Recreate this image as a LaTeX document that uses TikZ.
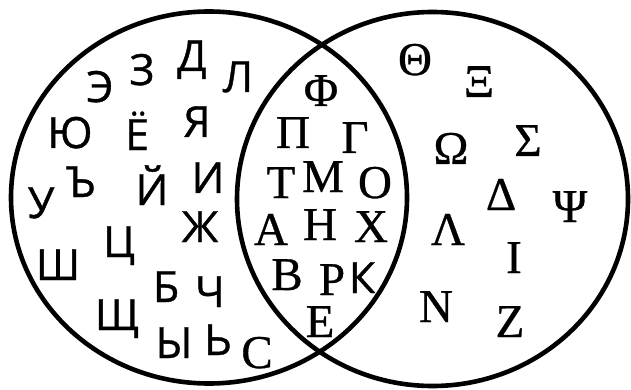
\documentclass[tikz,border=0pt]{standalone}
\usepackage{fontspec}
\newfontfamily\cyrfont[FakeBold=0.9]{Open Sans}
\newfontfamily\grkfont[FakeBold=0.7]{Liberation Serif}
\begin{document}
\begin{tikzpicture}[x=1pt,y=-1pt,
  ring/.style={line width=4.6pt},
  cy/.style={anchor=base,inner sep=0pt,font=\cyrfont\fontsize{43}{43}\selectfont},
  gr/.style={anchor=base,inner sep=0pt,font=\grkfont\fontsize{47}{47}\selectfont}]
\useasboundingbox (0,0) rectangle (631,390);
\draw[ring] (209,197.5) ellipse [x radius=198pt, y radius=186pt];
\draw[ring] (432.5,199) ellipse [x radius=195.5pt, y radius=187pt];
% Cyrillic only
\node[cy] (l1) at (100,102) {Э};
\node[cy] (l2) at (142,85) {З};
\node[cy] (l3) at (192,71) {Д};
\node[cy] (l4) at (238,92) {Л};
\node[cy] (l5) at (70,148) {Ю};
\node[cy] (l6) at (137,150) {Ё};
\node[cy] (l7) at (197,137) {Я};
\node[cy] (l8) at (81,197) {Ъ};
\node[cy] (l9) at (41,218) {У};
\node[cy] (l10) at (152,205) {Й};
\node[cy] (l11) at (208,193) {И};
\node[cy] (l12) at (200,242) {Ж};
\node[cy] (l13) at (119,257) {Ц};
\node[cy] (l14) at (58,280) {Ш};
\node[cy] (l15) at (166,302) {Б};
\node[cy] (l16) at (210,307) {Ч};
\node[cy] (l17) at (117,330) {Щ};
\node[cy] (l18) at (174,358) {Ы};
\node[cy] (l19) at (218,355) {Ь};
\node[gr] (l20) at (257,368) {С};
% shared
\node[gr] (m1) at (321,106) {Φ};
\node[gr] (m2) at (293,148) {П};
\node[gr] (m3) at (355,153) {Γ};
\node[gr] (m4) at (281,198) {Т};
\node[gr] (m5) at (323,192) {М};
\node[gr] (m6) at (375,198) {О};
\node[gr] (m7) at (271,245) {А};
\node[gr] (m8) at (320,240) {Н};
\node[gr] (m9) at (371,242) {Х};
\node[gr] (m10) at (287,290) {В};
\node[gr] (m11) at (332,295) {Р};
\node[cy] (m12) at (362,293) {К};
\node[gr] (m13) at (320,337) {Е};
% Greek only
\node[gr] (r1) at (415,75) {Θ};
\node[gr] (r2) at (479,97) {Ξ};
\node[gr] (r3) at (451,164) {Ω};
\node[gr] (r4) at (528,156) {Σ};
\node[gr] (r5) at (501,210) {Δ};
\node[gr] (r6) at (570,222) {Ψ};
\node[gr] (r7) at (448,245) {Λ};
\node[gr] (r8) at (514,273) {Ι};
\node[gr] (r9) at (436,322) {Ν};
\node[gr] (r10) at (510,337) {Ζ};
\end{tikzpicture}
\end{document}
